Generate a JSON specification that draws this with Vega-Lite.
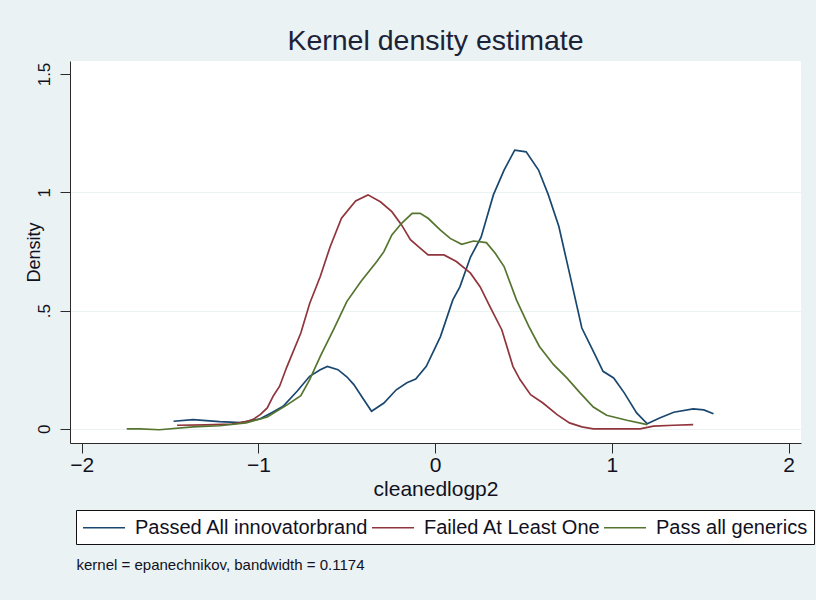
{
  "$schema": "https://vega.github.io/schema/vega-lite/v6.json",
  "width": 731,
  "height": 382,
  "autosize": {"type": "none"},
  "padding": {"left": 70, "top": 61, "right": 15, "bottom": 157},
  "background": "#EAF2F3",
  "title": {
    "text": "Kernel density estimate",
    "fontSize": 28.5,
    "fontWeight": "normal",
    "font": "Liberation Sans",
    "color": "#1c2238",
    "anchor": "middle",
    "offset": 6
  },
  "config": {
    "font": "Liberation Sans",
    "view": {"stroke": null, "fill": "white"},
    "axis": {
      "domainColor": "#2a2a2a",
      "tickColor": "#2a2a2a",
      "labelColor": "#111122",
      "titleColor": "#111122",
      "titleFontWeight": "normal",
      "labelFont": "Liberation Sans",
      "titleFont": "Liberation Sans"
    }
  },
  "data": {
    "values": [
      {"g": "Passed All innovatorbrand", "x": -1.48, "y": 0.032},
      {"g": "Passed All innovatorbrand", "x": -1.37, "y": 0.039},
      {"g": "Passed All innovatorbrand", "x": -1.22, "y": 0.03},
      {"g": "Passed All innovatorbrand", "x": -1.1, "y": 0.026},
      {"g": "Passed All innovatorbrand", "x": -0.99, "y": 0.042},
      {"g": "Passed All innovatorbrand", "x": -0.92, "y": 0.07},
      {"g": "Passed All innovatorbrand", "x": -0.86, "y": 0.095},
      {"g": "Passed All innovatorbrand", "x": -0.78, "y": 0.16},
      {"g": "Passed All innovatorbrand", "x": -0.71, "y": 0.222},
      {"g": "Passed All innovatorbrand", "x": -0.65, "y": 0.25},
      {"g": "Passed All innovatorbrand", "x": -0.61, "y": 0.264},
      {"g": "Passed All innovatorbrand", "x": -0.55, "y": 0.25},
      {"g": "Passed All innovatorbrand", "x": -0.5, "y": 0.22},
      {"g": "Passed All innovatorbrand", "x": -0.46, "y": 0.187},
      {"g": "Passed All innovatorbrand", "x": -0.41, "y": 0.13},
      {"g": "Passed All innovatorbrand", "x": -0.36, "y": 0.074},
      {"g": "Passed All innovatorbrand", "x": -0.29, "y": 0.109},
      {"g": "Passed All innovatorbrand", "x": -0.22, "y": 0.165},
      {"g": "Passed All innovatorbrand", "x": -0.16, "y": 0.195},
      {"g": "Passed All innovatorbrand", "x": -0.11, "y": 0.21},
      {"g": "Passed All innovatorbrand", "x": -0.05, "y": 0.264},
      {"g": "Passed All innovatorbrand", "x": 0.03, "y": 0.39},
      {"g": "Passed All innovatorbrand", "x": 0.1, "y": 0.545},
      {"g": "Passed All innovatorbrand", "x": 0.14, "y": 0.6},
      {"g": "Passed All innovatorbrand", "x": 0.2, "y": 0.726},
      {"g": "Passed All innovatorbrand", "x": 0.26, "y": 0.81},
      {"g": "Passed All innovatorbrand", "x": 0.33, "y": 0.99},
      {"g": "Passed All innovatorbrand", "x": 0.39, "y": 1.094},
      {"g": "Passed All innovatorbrand", "x": 0.45, "y": 1.178},
      {"g": "Passed All innovatorbrand", "x": 0.515, "y": 1.171},
      {"g": "Passed All innovatorbrand", "x": 0.585, "y": 1.094},
      {"g": "Passed All innovatorbrand", "x": 0.64, "y": 0.99},
      {"g": "Passed All innovatorbrand", "x": 0.7, "y": 0.855},
      {"g": "Passed All innovatorbrand", "x": 0.76, "y": 0.658},
      {"g": "Passed All innovatorbrand", "x": 0.83, "y": 0.426},
      {"g": "Passed All innovatorbrand", "x": 0.9, "y": 0.32},
      {"g": "Passed All innovatorbrand", "x": 0.95, "y": 0.243},
      {"g": "Passed All innovatorbrand", "x": 1.01, "y": 0.215},
      {"g": "Passed All innovatorbrand", "x": 1.07, "y": 0.152},
      {"g": "Passed All innovatorbrand", "x": 1.14, "y": 0.067},
      {"g": "Passed All innovatorbrand", "x": 1.2, "y": 0.021},
      {"g": "Passed All innovatorbrand", "x": 1.27, "y": 0.046},
      {"g": "Passed All innovatorbrand", "x": 1.35, "y": 0.07},
      {"g": "Passed All innovatorbrand", "x": 1.46, "y": 0.084},
      {"g": "Passed All innovatorbrand", "x": 1.52, "y": 0.08},
      {"g": "Passed All innovatorbrand", "x": 1.575, "y": 0.064},
      {"g": "Failed At Least One", "x": -1.46, "y": 0.015},
      {"g": "Failed At Least One", "x": -1.3, "y": 0.017},
      {"g": "Failed At Least One", "x": -1.15, "y": 0.02},
      {"g": "Failed At Least One", "x": -1.07, "y": 0.03},
      {"g": "Failed At Least One", "x": -1.03, "y": 0.04},
      {"g": "Failed At Least One", "x": -0.99, "y": 0.06},
      {"g": "Failed At Least One", "x": -0.95, "y": 0.088},
      {"g": "Failed At Least One", "x": -0.915, "y": 0.14},
      {"g": "Failed At Least One", "x": -0.88, "y": 0.18},
      {"g": "Failed At Least One", "x": -0.84, "y": 0.26},
      {"g": "Failed At Least One", "x": -0.76, "y": 0.405},
      {"g": "Failed At Least One", "x": -0.71, "y": 0.53},
      {"g": "Failed At Least One", "x": -0.65, "y": 0.644},
      {"g": "Failed At Least One", "x": -0.594, "y": 0.77},
      {"g": "Failed At Least One", "x": -0.53, "y": 0.89},
      {"g": "Failed At Least One", "x": -0.45, "y": 0.963},
      {"g": "Failed At Least One", "x": -0.38, "y": 0.989},
      {"g": "Failed At Least One", "x": -0.31, "y": 0.96},
      {"g": "Failed At Least One", "x": -0.245, "y": 0.918},
      {"g": "Failed At Least One", "x": -0.19, "y": 0.862},
      {"g": "Failed At Least One", "x": -0.14, "y": 0.8},
      {"g": "Failed At Least One", "x": -0.085, "y": 0.764},
      {"g": "Failed At Least One", "x": -0.04, "y": 0.735},
      {"g": "Failed At Least One", "x": 0.05, "y": 0.735},
      {"g": "Failed At Least One", "x": 0.12, "y": 0.707},
      {"g": "Failed At Least One", "x": 0.2, "y": 0.658},
      {"g": "Failed At Least One", "x": 0.255, "y": 0.6},
      {"g": "Failed At Least One", "x": 0.31, "y": 0.517},
      {"g": "Failed At Least One", "x": 0.377, "y": 0.419},
      {"g": "Failed At Least One", "x": 0.44, "y": 0.264},
      {"g": "Failed At Least One", "x": 0.48, "y": 0.208},
      {"g": "Failed At Least One", "x": 0.54, "y": 0.144},
      {"g": "Failed At Least One", "x": 0.61, "y": 0.109},
      {"g": "Failed At Least One", "x": 0.69, "y": 0.06},
      {"g": "Failed At Least One", "x": 0.76, "y": 0.025},
      {"g": "Failed At Least One", "x": 0.83, "y": 0.008},
      {"g": "Failed At Least One", "x": 0.895, "y": 0.0},
      {"g": "Failed At Least One", "x": 1.0, "y": 0.0},
      {"g": "Failed At Least One", "x": 1.16, "y": 0.0},
      {"g": "Failed At Least One", "x": 1.235, "y": 0.011},
      {"g": "Failed At Least One", "x": 1.35, "y": 0.015},
      {"g": "Failed At Least One", "x": 1.46, "y": 0.018},
      {"g": "Pass all generics", "x": -1.745, "y": 0.0},
      {"g": "Pass all generics", "x": -1.67, "y": 0.0},
      {"g": "Pass all generics", "x": -1.56, "y": -0.004},
      {"g": "Pass all generics", "x": -1.37, "y": 0.008},
      {"g": "Pass all generics", "x": -1.22, "y": 0.013},
      {"g": "Pass all generics", "x": -1.07, "y": 0.025},
      {"g": "Pass all generics", "x": -0.95, "y": 0.05},
      {"g": "Pass all generics", "x": -0.84, "y": 0.1},
      {"g": "Pass all generics", "x": -0.76, "y": 0.14},
      {"g": "Pass all generics", "x": -0.71, "y": 0.208},
      {"g": "Pass all generics", "x": -0.65, "y": 0.306},
      {"g": "Pass all generics", "x": -0.575, "y": 0.419},
      {"g": "Pass all generics", "x": -0.5, "y": 0.538},
      {"g": "Pass all generics", "x": -0.42, "y": 0.623},
      {"g": "Pass all generics", "x": -0.33, "y": 0.707},
      {"g": "Pass all generics", "x": -0.29, "y": 0.749},
      {"g": "Pass all generics", "x": -0.245, "y": 0.82},
      {"g": "Pass all generics", "x": -0.19, "y": 0.869},
      {"g": "Pass all generics", "x": -0.13, "y": 0.911},
      {"g": "Pass all generics", "x": -0.085, "y": 0.911},
      {"g": "Pass all generics", "x": -0.04, "y": 0.89},
      {"g": "Pass all generics", "x": 0.03, "y": 0.84},
      {"g": "Pass all generics", "x": 0.085, "y": 0.805},
      {"g": "Pass all generics", "x": 0.15, "y": 0.78},
      {"g": "Pass all generics", "x": 0.217, "y": 0.794},
      {"g": "Pass all generics", "x": 0.29, "y": 0.787},
      {"g": "Pass all generics", "x": 0.34, "y": 0.742},
      {"g": "Pass all generics", "x": 0.39, "y": 0.686},
      {"g": "Pass all generics", "x": 0.46, "y": 0.545},
      {"g": "Pass all generics", "x": 0.53, "y": 0.433},
      {"g": "Pass all generics", "x": 0.59, "y": 0.348},
      {"g": "Pass all generics", "x": 0.67, "y": 0.271},
      {"g": "Pass all generics", "x": 0.745, "y": 0.215},
      {"g": "Pass all generics", "x": 0.82, "y": 0.152},
      {"g": "Pass all generics", "x": 0.895, "y": 0.092},
      {"g": "Pass all generics", "x": 0.97, "y": 0.057},
      {"g": "Pass all generics", "x": 1.085, "y": 0.036},
      {"g": "Pass all generics", "x": 1.2, "y": 0.018}
    ]
  },
  "layer": [
    {
      "mark": {"type": "line", "strokeWidth": 1.7},
      "encoding": {
        "x": {
          "field": "x",
          "type": "quantitative",
          "scale": {"domain": [-2.066, 2.07], "nice": false, "zero": false},
          "axis": {
            "values": [-2, -1, 0, 1, 2],
            "grid": false,
            "tickSize": 10,
            "labelFontSize": 21,
            "labelBaseline": "alphabetic",
            "labelPadding": 18,
            "labelFlush": false,
            "title": "cleanedlogp2",
            "titleFontSize": 21,
            "titleBaseline": "alphabetic",
            "titleAlign": "center",
            "titleX": 365.5,
            "titleY": 52
          }
        },
        "y": {
          "field": "y",
          "type": "quantitative",
          "scale": {"domain": [-0.06, 1.555], "nice": false, "zero": false},
          "axis": {
            "values": [0, 0.5, 1, 1.5],
            "labelExpr": "datum.value == 0.5 ? '.5' : datum.value == 1.5 ? '1.5' : datum.value == 1 ? '1' : '0'",
            "grid": true,
            "gridColor": {"condition": {"test": "datum.value > 1.2", "value": "white"}, "value": "#EAF2F3"},
            "gridWidth": 1,
            "tickSize": 10,
            "labelAngle": 270,
            "labelAlign": "center",
            "labelBaseline": "alphabetic",
            "labelPadding": 11,
            "labelFontSize": 17,
            "labelFlush": false,
            "title": "Density",
            "titleFontSize": 18,
            "titleAngle": 270,
            "titleAlign": "center",
            "titleBaseline": "alphabetic",
            "titleX": -31,
            "titleY": 191
          }
        },
        "color": {
          "field": "g",
          "type": "nominal",
          "scale": {
            "domain": ["Passed All innovatorbrand", "Failed At Least One", "Pass all generics"],
            "range": ["#1A476F", "#90353B", "#55752F"]
          },
          "legend": {
            "orient": "none",
            "legendX": 6,
            "legendY": 449,
            "direction": "horizontal",
            "title": null,
            "symbolType": "M-1,0H3",
            "symbolSize": 441,
            "symbolStrokeWidth": 1.5,
            "labelFontSize": 20,
            "labelFont": "Liberation Sans",
            "labelColor": "#111122",
            "labelOffset": 30,
            "labelLimit": 400,
            "columnPadding": 0,
            "padding": 6,
            "fillColor": "white",
            "strokeColor": "#111111"
          }
        }
      }
    },
    {
      "mark": {"type": "rule", "opacity": 0},
      "encoding": {
        "y": {
          "datum": 0,
          "type": "quantitative",
          "axis": {
            "orient": "right",
            "domain": false,
            "ticks": false,
            "labels": false,
            "grid": false,
            "title": "kernel = epanechnikov, bandwidth = 0.1174",
            "titleFontSize": 15,
            "titleAngle": 0,
            "titleAlign": "left",
            "titleBaseline": "alphabetic",
            "titleX": -725,
            "titleY": 508
          }
        }
      }
    }
  ],
  "resolve": {"axis": {"y": "independent"}}
}
